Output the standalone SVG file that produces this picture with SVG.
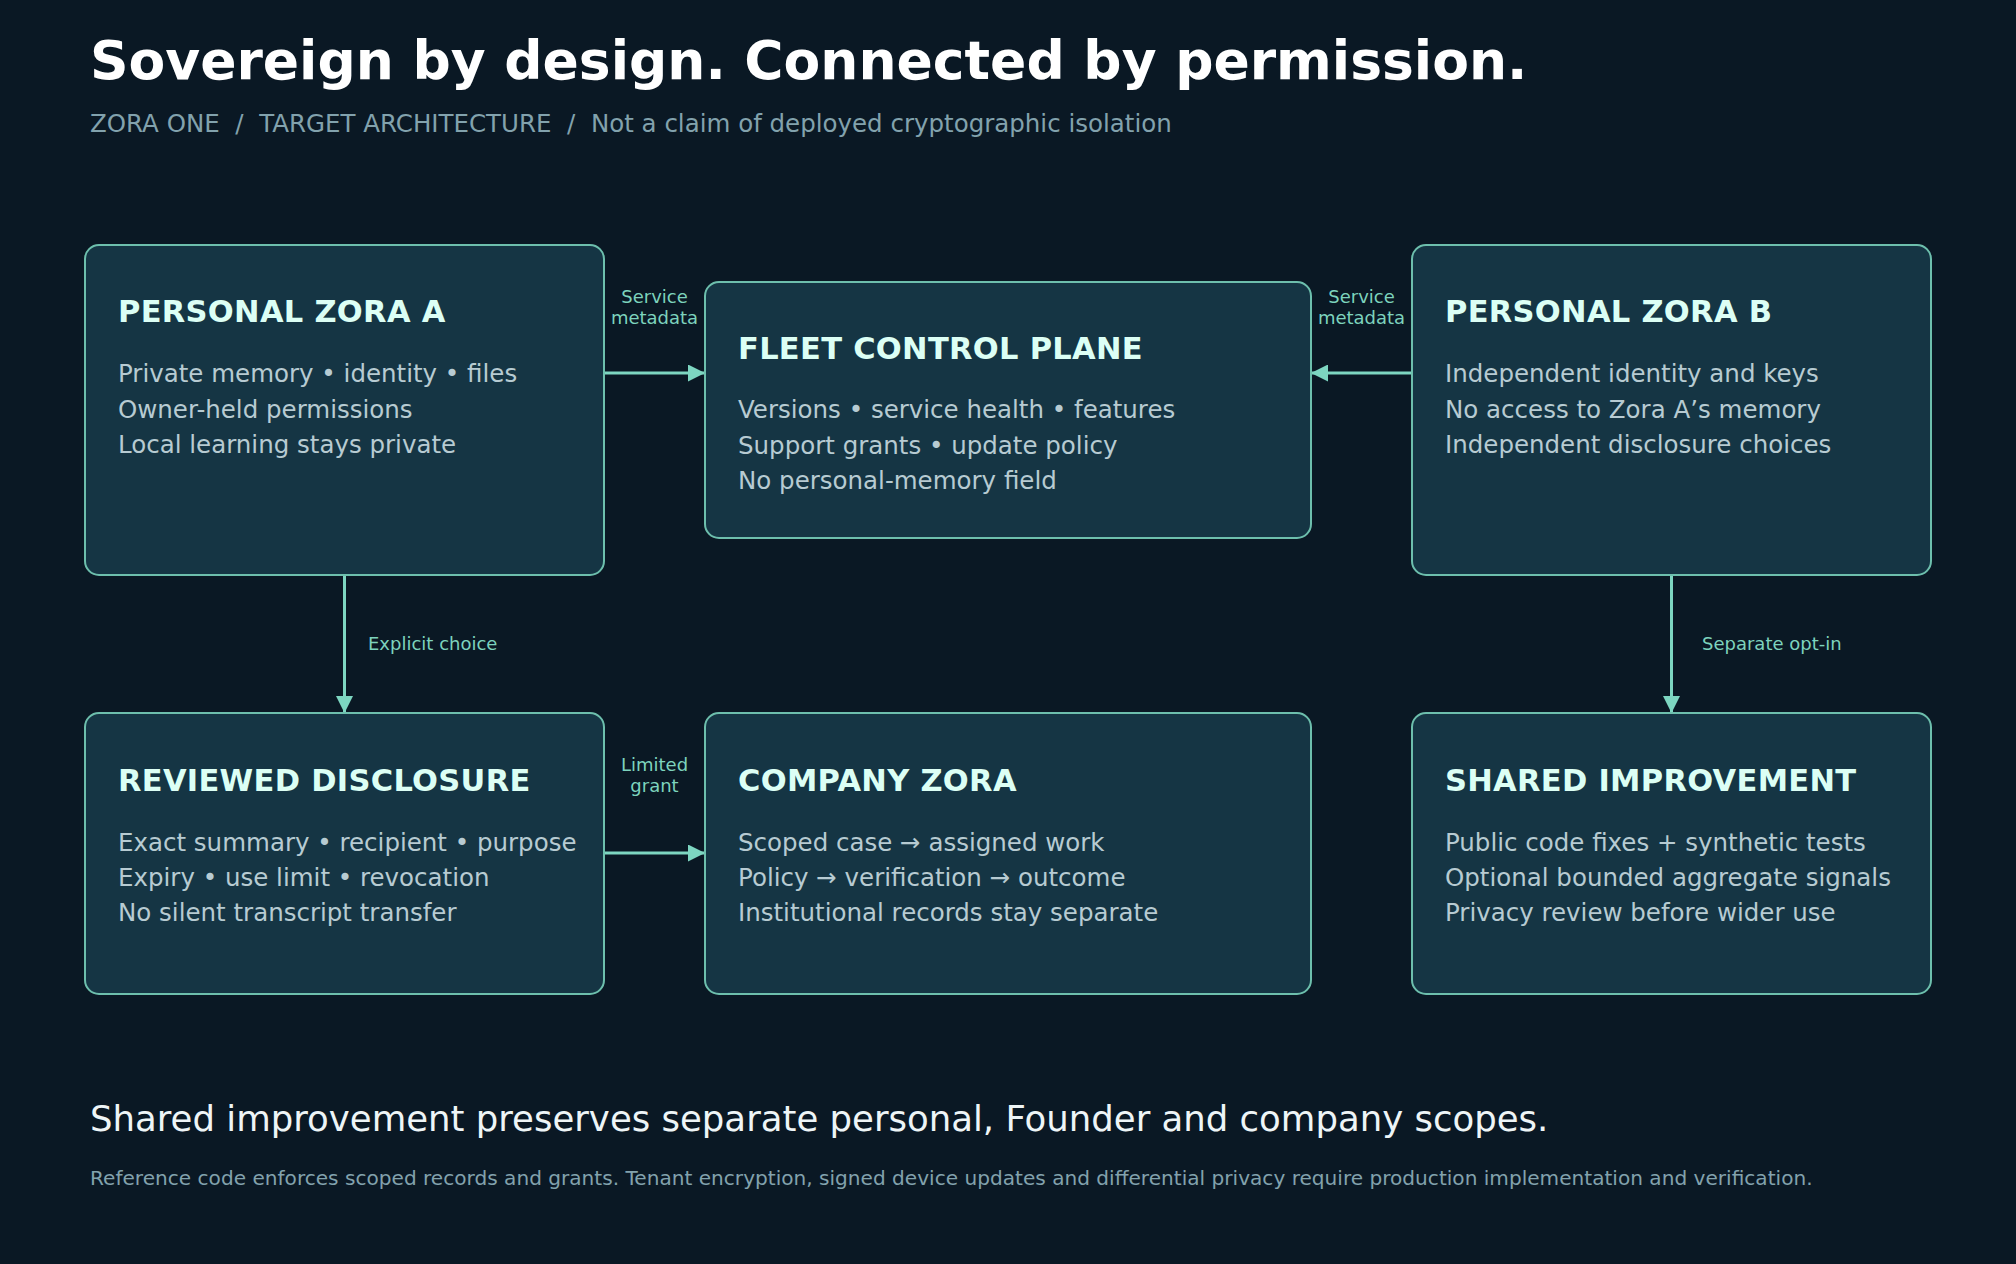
<svg xmlns="http://www.w3.org/2000/svg" width="2016" height="1264" viewBox="0 0 2016 1264">
  <defs>
    <style>
      .bg { fill: #0a1824; }
      .box { fill: #153544; stroke: #6dbfad; stroke-width: 2; }
      .head { font-family: "DejaVu Sans", "Liberation Sans", sans-serif; font-weight: bold; font-size: 30.5px; letter-spacing: 0.3px; fill: #dcfff5; }
      .body { font-family: "DejaVu Sans", "Liberation Sans", sans-serif; font-size: 24.5px; fill: #b7cbd2; }
      .lbl { font-family: "DejaVu Sans", "Liberation Sans", sans-serif; font-size: 18px; fill: #7dd3bd; }
      .mid { text-anchor: middle; }
      .conn { stroke: #7dd6c1; stroke-width: 3; fill: none; marker-end: url(#arrow); }
      .title { font-family: "DejaVu Sans", "Liberation Sans", sans-serif; font-weight: bold; font-size: 53.5px; fill: #ffffff; }
      .sub { font-family: "DejaVu Sans", "Liberation Sans", sans-serif; font-size: 24.5px; fill: #82a2ad; white-space: pre; }
      .foot { font-family: "DejaVu Sans", "Liberation Sans", sans-serif; font-size: 35.5px; fill: #eef5f7; }
      .note { font-family: "DejaVu Sans", "Liberation Sans", sans-serif; font-size: 20.1px; fill: #82a2ad; }
    </style>
    <marker id="arrow" viewBox="0 0 17 17" refX="17" refY="8.5" markerWidth="17" markerHeight="17" markerUnits="userSpaceOnUse" orient="auto">
      <path d="M0,0 L17,8.5 L0,17 Z" fill="#7dd6c1"/>
    </marker>
  </defs>

  <rect class="bg" x="0" y="0" width="2016" height="1264"/>

  <g id="header">
    <text class="title" x="90" y="78.5">Sovereign by design. Connected by permission.</text>
    <text class="sub" x="90" y="132" xml:space="preserve">ZORA ONE  /  TARGET ARCHITECTURE  /  Not a claim of deployed cryptographic isolation</text>
  </g>

  <g id="connectors">
    <path class="conn" d="M604,373 L705,373"/>
    <path class="conn" d="M1412,373 L1311,373"/>
    <path class="conn" d="M344.5,575 L344.5,713"/>
    <path class="conn" d="M1671.5,575 L1671.5,713"/>
    <path class="conn" d="M604,853 L705,853"/>
    <text class="lbl mid" x="654.5" y="302.5">Service</text>
    <text class="lbl mid" x="654.5" y="323.5">metadata</text>
    <text class="lbl mid" x="1361.5" y="302.5">Service</text>
    <text class="lbl mid" x="1361.5" y="323.5">metadata</text>
    <text class="lbl" x="368" y="650">Explicit choice</text>
    <text class="lbl" x="1702" y="650">Separate opt-in</text>
    <text class="lbl mid" x="654.5" y="770.5">Limited</text>
    <text class="lbl mid" x="654.5" y="791.5">grant</text>
  </g>

  <g id="personal-zora-a">
    <rect class="box" x="85" y="245" width="519" height="330" rx="14"/>
    <text class="head" x="118" y="322">PERSONAL ZORA A</text>
    <text class="body" x="118" y="382">Private memory • identity • files</text>
    <text class="body" x="118" y="417.5">Owner-held permissions</text>
    <text class="body" x="118" y="452.5">Local learning stays private</text>
  </g>

  <g id="fleet-control-plane">
    <rect class="box" x="705" y="282" width="606" height="256" rx="14"/>
    <text class="head" x="738" y="358.5">FLEET CONTROL PLANE</text>
    <text class="body" x="738" y="418">Versions • service health • features</text>
    <text class="body" x="738" y="453.5">Support grants • update policy</text>
    <text class="body" x="738" y="489">No personal-memory field</text>
  </g>

  <g id="personal-zora-b">
    <rect class="box" x="1412" y="245" width="519" height="330" rx="14"/>
    <text class="head" x="1445" y="322">PERSONAL ZORA B</text>
    <text class="body" x="1445" y="382">Independent identity and keys</text>
    <text class="body" x="1445" y="417.5">No access to Zora A’s memory</text>
    <text class="body" x="1445" y="452.5">Independent disclosure choices</text>
  </g>

  <g id="reviewed-disclosure">
    <rect class="box" x="85" y="713" width="519" height="281" rx="14"/>
    <text class="head" x="118" y="790.5">REVIEWED DISCLOSURE</text>
    <text class="body" x="118" y="851">Exact summary • recipient • purpose</text>
    <text class="body" x="118" y="886">Expiry • use limit • revocation</text>
    <text class="body" x="118" y="921">No silent transcript transfer</text>
  </g>

  <g id="company-zora">
    <rect class="box" x="705" y="713" width="606" height="281" rx="14"/>
    <text class="head" x="738" y="790.5">COMPANY ZORA</text>
    <text class="body" x="738" y="851">Scoped case → assigned work</text>
    <text class="body" x="738" y="886">Policy → verification → outcome</text>
    <text class="body" x="738" y="921">Institutional records stay separate</text>
  </g>

  <g id="shared-improvement">
    <rect class="box" x="1412" y="713" width="519" height="281" rx="14"/>
    <text class="head" x="1445" y="790.5">SHARED IMPROVEMENT</text>
    <text class="body" x="1445" y="851">Public code fixes + synthetic tests</text>
    <text class="body" x="1445" y="886">Optional bounded aggregate signals</text>
    <text class="body" x="1445" y="921">Privacy review before wider use</text>
  </g>

  <g id="footer">
    <text class="foot" x="90" y="1131">Shared improvement preserves separate personal, Founder and company scopes.</text>
    <text class="note" x="90" y="1185">Reference code enforces scoped records and grants. Tenant encryption, signed device updates and differential privacy require production implementation and verification.</text>
  </g>
</svg>
